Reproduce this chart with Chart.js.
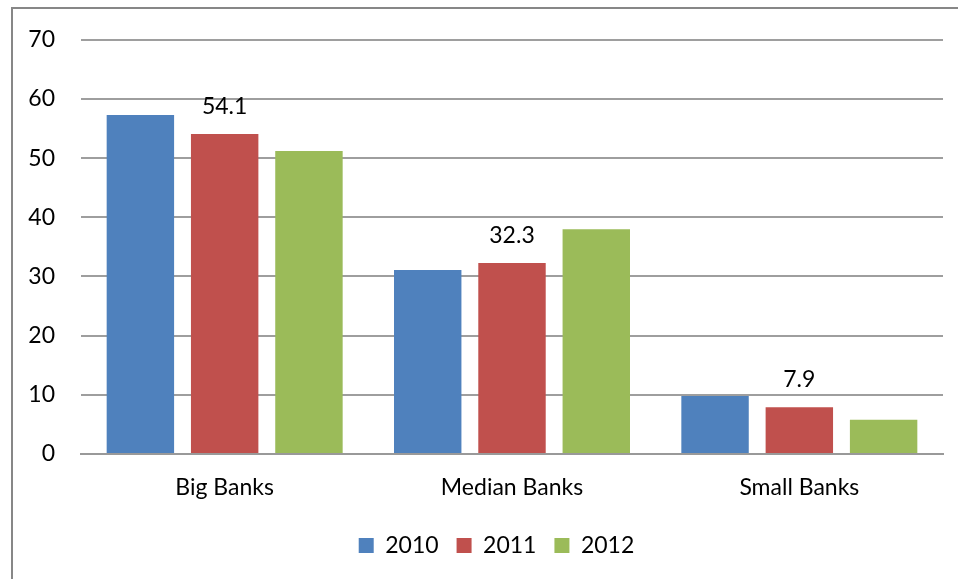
<!DOCTYPE html>
<html>
<head>
<meta charset="utf-8">
<script src="https://cdn.jsdelivr.net/npm/chart.js@4"></script>
<style>
  html, body { margin: 0; padding: 0; background: #fff; }
  #wrap { position: relative; width: 958px; height: 579px; overflow: hidden; }
  #frame { position: absolute; left: 11px; top: 7px; width: 2000px; height: 2000px;
           border-left: 2px solid #878787; border-top: 2px solid #878787; box-sizing: border-box; }
  #grafico { position: absolute; left: 0; top: 0; }
</style>
</head>
<body>
<div id="wrap">
  <div id="frame"></div>
  <canvas id="grafico" width="958" height="579"></canvas>
</div>
<script>
// Dados
const categorias = ["Big Banks", "Median Banks", "Small Banks"];
const anos = ["2010", "2011", "2012"];
const valores2010 = [57.3, 31.1, 9.8];
const valores2011 = [54.1, 32.3, 7.9];
const valores2012 = [51.2, 38.0, 5.8];
const ticksY = [0, 10, 20, 30, 40, 50, 60, 70];
const cores = ["#4F81BD", "#C0504D", "#9BBB59"];

const fonte = "Lato, 'Open Sans', sans-serif";
const tamanho = 23;

// Rótulos só na série 2011
const rotulosPlugin = {
    id: "rotulos",
    afterDatasetsDraw(chart) {
        const ctx = chart.ctx;
        const meta = chart.getDatasetMeta(1);
        ctx.save();
        ctx.font = tamanho + "px " + fonte;
        ctx.fillStyle = "#000";
        ctx.textAlign = "center";
        ctx.textBaseline = "bottom";
        meta.data.forEach((bar, i) => {
            ctx.fillText(valores2011[i].toFixed(1), bar.x, bar.y - 16);
        });
        ctx.restore();
    }
};

// Legenda um pouco deslocada para a direita, como no original
const deslocaLegenda = {
    id: "deslocaLegenda",
    afterLayout(chart) {
        if (chart.legend) {
            chart.legend.left += 25;
            chart.legend.right += 25;
        }
    }
};

const series = [valores2010, valores2011, valores2012];

new Chart(document.getElementById("grafico"), {
    type: "bar",
    data: {
        labels: categorias,
        datasets: series.map((vals, i) => ({
            label: anos[i],
            data: vals,
            backgroundColor: cores[i],
            borderWidth: 0,
            categoryPercentage: 0.88,
            barPercentage: 0.8
        }))
    },
    options: {
        responsive: false,
        animation: false,
        layout: { padding: { top: 38, right: 15, bottom: 12, left: 0 } },
        plugins: {
            legend: {
                position: "bottom",
                labels: {
                    font: { family: fonte, size: tamanho },
                    color: "#000",
                    boxWidth: 15,
                    boxHeight: 15,
                    padding: 18
                }
            },
            tooltip: { enabled: false }
        },
        scales: {
            x: {
                grid: { display: false, drawTicks: false },
                border: { color: "#999", width: 2 },
                ticks: { font: { family: fonte, size: tamanho }, color: "#000", padding: 20 },
                afterFit(scale) { scale.height = 62; }
            },
            y: {
                min: 0,
                max: 70,
                afterBuildTicks(scale) { scale.ticks = ticksY.map(v => ({ value: v })); },
                grid: { color: "#9e9e9e", lineWidth: 2, drawTicks: false },
                border: { display: false },
                ticks: { font: { family: fonte, size: tamanho }, color: "#000", padding: 26 },
                afterFit(scale) { scale.width = 81; }
            }
        }
    },
    plugins: [rotulosPlugin, deslocaLegenda]
});
</script>
</body>
</html>
